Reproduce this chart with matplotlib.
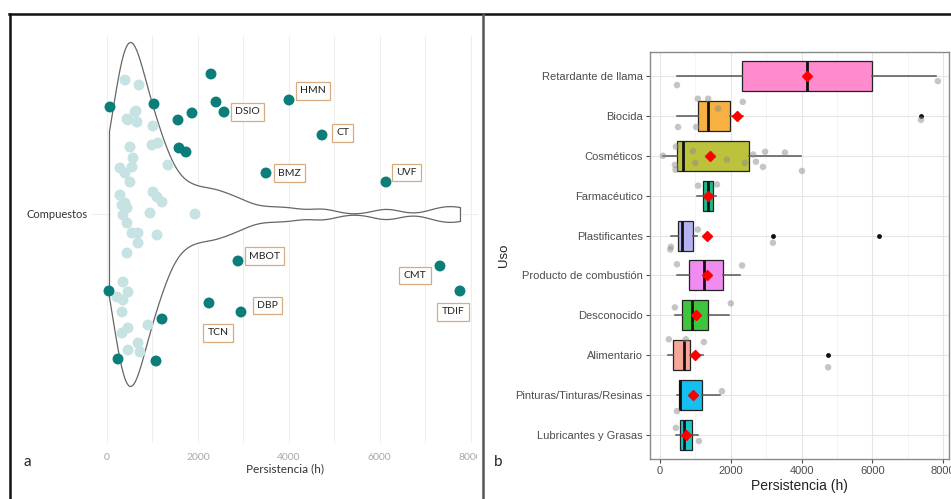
import numpy as np
import matplotlib
matplotlib.use("Agg")
import matplotlib.pyplot as plt
from matplotlib.lines import Line2D
from matplotlib.patches import Rectangle

# ---------------- panel a: persistence of individual compounds ----------------
# light points: persistence (h) and vertical jitter
light_h = [396, 704, 440, 638, 616, 462, 660, 1012, 990, 1122, 506, 572, 550, 286,
           396, 1342, 506, 286, 396, 1012, 1100, 330, 440, 1210, 946, 1936, 352, 440,
           550, 682, 1100, 682, 440, 352, 462, 220, 352, 330, 462, 330, 902, 462, 682,
           726]
light_j = [134, 129, 95, 103, 102, 94, 92, 88, 69, 71, 67, 56, 47, 46,
           41, 49, 32, 19, 11, 22, 17, 9, 6, 12, 1, 0, -1, -9,
           -19, -19, -21, -29, -39, -68, -78, -83, -86, -98, -114, -119, -111, -136, -129,
           -138]

# highlighted compounds: persistence (h), vertical jitter, name
dark_h = [66, 1034, 2288, 2398, 2574, 1870, 1562, 1584, 1738, 4004, 4730, 3498, 6138,
          2882, 7326, 7766, 44, 2244, 2948, 1210, 242, 1078]
dark_j = [107, 110, 140, 112, 102, 101, 94, 66, 62, 114, 79, 41, 32,
          -47, -52, -77, -77, -89, -98, -105, -145, -147]
dark_names = ["", "", "", "", "DSIO", "", "", "", "", "HMN", "CT", "BMZ", "UVF",
              "MBOT", "CMT", "TDIF", "", "TCN", "DBP", "", "", ""]
# label offsets in points
label_offsets = {"DSIO": (17, 0), "HMN": (17, 6.5), "CT": (15, 1.5), "BMZ": (17, 0),
                 "UVF": (15, 7), "MBOT": (19, 3.5), "CMT": (-18, -7), "TDIF": (-5, -15),
                 "DBP": (19, 4.5), "TCN": (6.5, -21.5)}

a_ticks = [0, 2000, 4000, 6000, 8000]

# ---------------- panel b: persistence by use ----------------
uses = ["Retardante de llama", "Biocida", "Cosméticos", "Farmacéutico", "Plastificantes",
        "Producto de combustión", "Desconocido", "Alimentario",
        "Pinturas/Tinturas/Resinas", "Lubricantes y Grasas"]
whis_lo = [480, 480, 85, 1040, 310, 480, 420, 230, 480, 450]
q1 = [2320, 1070, 480, 1225, 510, 830, 620, 370, 540, 560]
median = [4150, 1350, 650, 1356, 620, 1230, 900, 680, 565, 680]
q3 = [5990, 1980, 2510, 1490, 930, 1780, 1360, 850, 1190, 900]
whis_hi = [7800, 2340, 3980, 1580, 1045, 2270, 1950, 1210, 1700, 1070]
mean = [4150, 2170, 1410, 1356, 1330, 1320, 1030, 990, 940, 730]
outliers = [[], [7370], [], [], [3190, 6190], [], [], [4750], [], []]
box_colors = ["#FF8ACD", "#F6B142", "#BCC23C", "#1DB98A", "#B3B3F2",
              "#F08CF0", "#3DC63D", "#F8A59A", "#14BFF2", "#1CC6C8"]

# jittered observations: (use index, persistence, vertical offset)
obs_use = [0, 0, 1, 1, 1, 1, 1, 1, 1, 2, 2, 2, 2, 2, 2, 2, 2, 2, 2, 2, 2, 2, 2,
           3, 3, 4, 4, 4, 4, 5, 5, 6, 6, 7, 7, 7, 7, 8, 8, 9, 9]
obs_h = [480, 7850, 1070, 1360, 1640, 2340, 510, 1020, 7370, 85, 450, 420, 440, 930,
         1000, 1890, 2400, 2630, 2970, 3530, 2910, 4010, 2710,
         1075, 1610, 310, 290, 1070, 3190, 480, 2320, 420, 2000, 250, 730, 1240, 4750,
         1750, 480, 450, 1100]
obs_off = [0.23, 0.13, -0.43, -0.43, -0.18, -0.35, 0.28, 0.28, 0.1, 0.0, -0.23, 0.23,
           0.35, -0.12, 0.18, 0.1, 0.18, -0.03, -0.1, -0.08, 0.28, 0.38, 0.15,
           -0.25, -0.28, 0.28, 0.35, -0.15, 0.18, -0.28, -0.25, -0.2, -0.3, -0.4, -0.4,
           -0.33, 0.3, -0.1, 0.4, -0.18, 0.15]
b_ticks = [0, 2000, 4000, 6000, 8000]

W, H = 951, 499
fig = plt.figure(figsize=(W / 100, H / 100), dpi=100)
fig.patch.set_facecolor("white")


def px_axes(x0, y0, x1, y1):
    return fig.add_axes([x0 / W, 1 - y1 / H, (x1 - x0) / W, (y1 - y0) / H])


# ---------------- panel a ----------------
fa = ["Lato", "DejaVu Sans"]
axa = px_axes(91.5, 36, 478, 443)
axa.set_xlim(-341, 8163)
axa.set_ylim(-229, 178)
for s in axa.spines.values():
    s.set_visible(False)
axa.set_xticks(a_ticks)
axa.set_xticks(np.arange(1000, 8001, 2000), minor=True)
axa.set_yticks([0])
axa.set_yticklabels(["Compuestos"], fontsize=8, family=fa, color="#333333")
axa.set_xticklabels([f"{t}" for t in a_ticks], fontsize=7.5, family=fa, color="#a8a8a8")
axa.tick_params(axis="both", which="both", length=0, pad=7)
axa.tick_params(axis="y", pad=3)
axa.grid(True, which="both", axis="x", color="#eeeeee", lw=0.8)
axa.grid(True, axis="y", color="#eeeeee", lw=0.8)
axa.set_axisbelow(True)
axa.set_xlabel("Persistencia (h)", fontsize=8.5, family=fa, color="#333333", labelpad=1)

# violin from a gaussian kernel density of all compounds
all_h = np.array(light_h + dark_h, dtype=float)
n = all_h.size
iqr = np.subtract(*np.percentile(all_h, [75, 25]))
bw = 0.9 * min(all_h.std(ddof=1), iqr / 1.34) * n ** -0.2
grid = np.linspace(all_h.min(), all_h.max(), 600)
dens = np.exp(-0.5 * ((grid[:, None] - all_h[None, :]) / bw) ** 2).sum(axis=1)
half = dens / dens.max() * 172
axa.fill_between(grid, -half, half, facecolor="white", edgecolor="#666666", lw=0.9, zorder=2)

axa.scatter(light_h, light_j, s=62, color="#C6E2E2", edgecolors="none", zorder=3)
axa.scatter(dark_h, dark_j, s=62, color="#0B7E79", edgecolors="none", zorder=4)
for h, j, name in zip(dark_h, dark_j, dark_names):
    if name:
        axa.annotate(name, xy=(h, j), xytext=label_offsets[name], textcoords="offset points",
                     ha="center", va="center", fontsize=7.5, family=fa, color="#222222",
                     bbox=dict(boxstyle="square,pad=0.4", fc="white", ec="#D8AC7E", lw=0.9),
                     zorder=5)

# ---------------- panel b ----------------
fb = ["Liberation Sans", "DejaVu Sans"]
axb = px_axes(650, 52, 949, 459)
axb.set_xlim(-282, 8164)
axb.set_ylim(10.6, 0.4)
axb.set_facecolor("white")
for s in axb.spines.values():
    s.set_color("#8a8a8a")
    s.set_linewidth(1.0)
axb.set_xticks(b_ticks)
axb.set_xticks(np.arange(1000, 8001, 2000), minor=True)
axb.grid(True, which="major", color="#e6e6e6", lw=0.8)
axb.grid(True, which="minor", axis="x", color="#f2f2f2", lw=0.6)
axb.set_axisbelow(True)

pos = np.arange(1, len(uses) + 1)
stats = []
for i in range(len(uses)):
    stats.append(dict(whislo=whis_lo[i], q1=q1[i], med=median[i], q3=q3[i],
                      whishi=whis_hi[i], mean=mean[i], fliers=outliers[i], label=uses[i]))
bp = axb.bxp(stats, positions=pos, vert=False, widths=0.75, patch_artist=True,
             showmeans=True, showcaps=False,
             boxprops=dict(edgecolor="#222222", lw=0.9),
             medianprops=dict(color="#111111", lw=2.0),
             whiskerprops=dict(color="#555555", lw=1.1),
             meanprops=dict(marker="D", markerfacecolor="#FF0000", markeredgecolor="#FF0000",
                            markersize=5),
             flierprops=dict(marker="o", markerfacecolor="#111111", markeredgecolor="none",
                             markersize=3.5))
for patch, c in zip(bp["boxes"], box_colors):
    patch.set_facecolor(c)
for m in bp["means"]:
    m.set_zorder(6)

obs_y = np.array(obs_use) + 1 + np.array(obs_off)
axb.scatter(obs_h, obs_y, s=22, color="#8c8c8c", alpha=0.5, edgecolors="none", zorder=5)

axb.set_yticks(pos)
axb.set_yticklabels(uses, fontsize=8, family=fb, color="#4d4d4d")
axb.set_xticklabels([f"{t}" for t in b_ticks], fontsize=8, family=fb, color="#4d4d4d")
axb.tick_params(axis="both", which="major", length=3, color="#4d4d4d", width=0.8, pad=2)
axb.tick_params(axis="x", which="minor", length=0)
axb.set_xlabel("Persistencia (h)", fontsize=10, family=fb, color="#222222", labelpad=2)
axb.set_ylabel("Uso", fontsize=9.5, family=fb, color="#222222", labelpad=4)

# ---------------- frame and panel letters ----------------
fig.text(27 / W, 1 - 462 / H, "a", fontsize=11, family=fa, color="#222222",
         ha="center", va="center")
fig.text(498 / W, 1 - 462 / H, "b", fontsize=11, family=fa, color="#222222",
         ha="center", va="center")
fig.patches.append(Rectangle((477 / W, 1 - 465 / H), 6 / W, 20 / H, transform=fig.transFigure,
                             facecolor="white", edgecolor="none", zorder=8))
fig.lines.append(Line2D([9 / W, 1], [1 - 14 / H, 1 - 14 / H], transform=fig.transFigure,
                        color="#111111", lw=1.8, zorder=10))
fig.lines.append(Line2D([10 / W, 10 / W], [0, 1 - 14 / H], transform=fig.transFigure,
                        color="#111111", lw=1.8, zorder=10))
fig.lines.append(Line2D([483.5 / W, 483.5 / W], [0, 1 - 14 / H], transform=fig.transFigure,
                        color="#555555", lw=1.8, zorder=10))

fig.savefig("out.png", dpi=100, facecolor="white")
